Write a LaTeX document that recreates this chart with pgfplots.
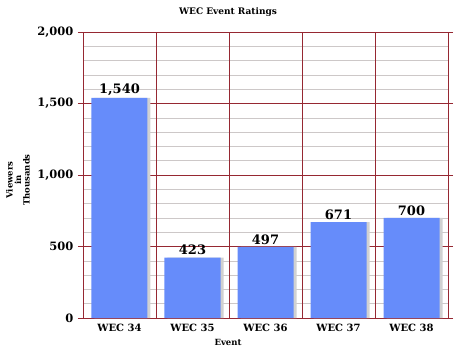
\documentclass[border=0pt]{standalone}
\usepackage{fontspec}
\setmainfont{DejaVu Serif}
\usepackage{pgfplots}
\pgfplotsset{compat=1.18}
\definecolor{barblue}{RGB}{102,140,250}
\definecolor{gridred}{RGB}{150,40,50}
\definecolor{minorgray}{RGB}{205,200,200}
\begin{document}
\begin{tikzpicture}
\begin{axis}[
  at={(0,0)}, anchor=south west,
  scale only axis, width=365pt, height=286pt,
  xmin=-0.5, xmax=4.5, ymin=0, ymax=2000,
  xtick={0,1,2,3,4},
  xticklabels={WEC 34,WEC 35,WEC 36,WEC 37,WEC 38},
  major x tick style={draw=none},
  extra x ticks={0.5,1.5,2.5,3.5},
  extra x tick labels={},
  extra x tick style={grid=major},
  ytick={0,500,1000,1500,2000},
  minor y tick num=4,
  ymajorgrids, yminorgrids,
  every major grid/.style={draw=gridred, line width=0.8pt},
  every minor grid/.style={draw=minorgray, line width=0.6pt},
  minor y tick style={draw=none},
  tick align=outside,
  major tick length=5pt,
  axis line style={draw=gridred, line width=0.8pt},
  every tick/.style={draw=gridred, line width=0.6pt},
  /pgf/number format/assume math mode=true,
  /pgf/number format/1000 sep={,},
  yticklabel style={font=\bfseries\fontsize{11.5}{12}\selectfont, xshift=-1pt},
  xticklabel style={font=\bfseries\fontsize{10}{11}\selectfont, yshift=2pt},
  ybar, bar width=56pt,
  clip=true,
]
\addplot[ybar, bar shift=3pt, fill=black!18, draw=none, forget plot] coordinates {(0,1540) (1,423) (2,497) (3,671) (4,700)};
\addplot[ybar, bar shift=0pt, fill=barblue, draw=none,
  nodes near coords,
  every node near coord/.append style={font=\bfseries\fontsize{13}{13}\selectfont, black, yshift=-1pt}]
  coordinates {(0,1540) (1,423) (2,497) (3,671) (4,700)};
\end{axis}
\node[font=\bfseries\fontsize{9}{10}\selectfont] at (145pt,306pt) {WEC Event Ratings};
\node[font=\bfseries\fontsize{8.5}{9}\selectfont] at (145pt,-24pt) {Event};
\node[font=\bfseries\fontsize{8.5}{8.5}\selectfont, rotate=90, align=center] at (-65pt,138pt) {Viewers\\in\\Thousands};
\pgfresetboundingbox
\path[use as bounding box] (-83pt,-33pt) rectangle (372pt,318pt);
\end{tikzpicture}
\end{document}
